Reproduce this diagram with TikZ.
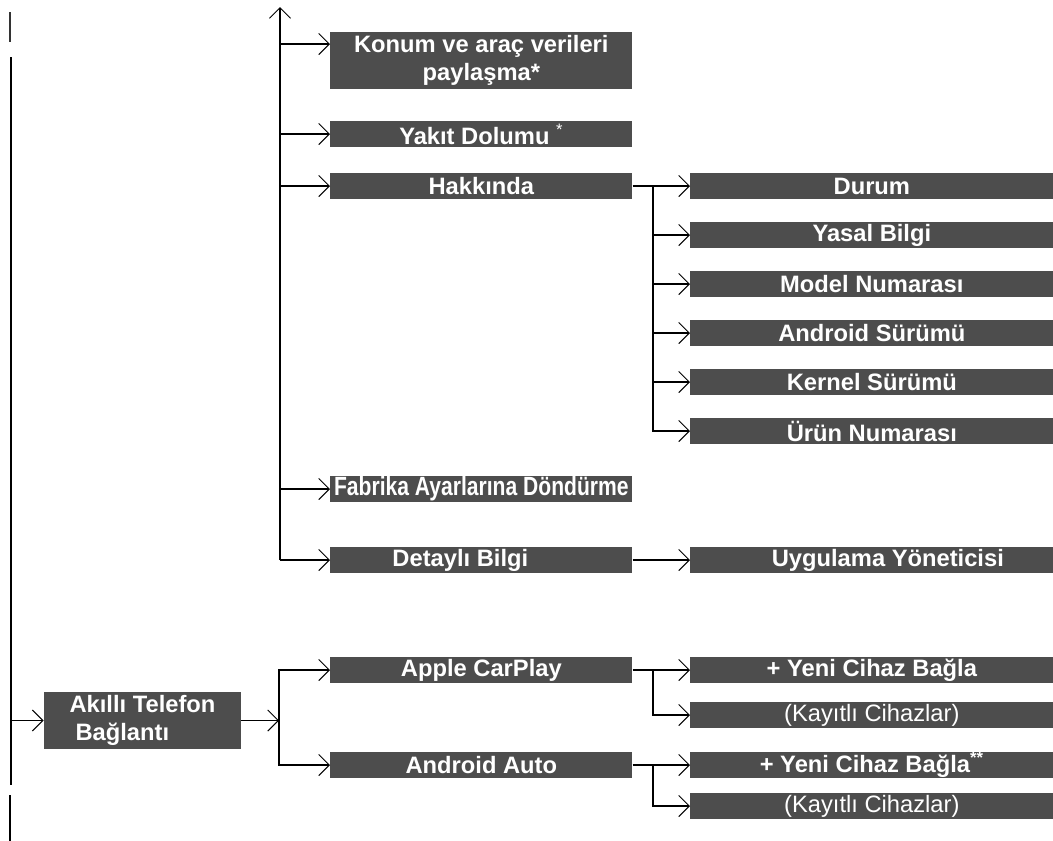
\documentclass[tikz,border=0pt]{standalone}
\usepackage{fontspec}
\setmainfont{Liberation Sans}
\newfontfamily\narrowfont[FakeStretch=0.8]{Liberation Sans}
\usepackage{tikz}
\usetikzlibrary{arrows.meta, positioning, calc}
\definecolor{boxgray}{RGB}{77, 77, 77}
\tikzstyle{menu} = [fill=boxgray, text=white, font=\fontsize{13.5}{16}\selectfont\bfseries, inner sep=0pt, minimum height=0.52cm, anchor=west]
\tikzstyle{leftmenu} = [menu, minimum width=6.04cm]
\tikzstyle{rightmenu} = [menu, minimum width=7.26cm]
\tikzstyle{narrow} = [font=\fontsize{15}{16}\selectfont\narrowfont\bfseries]
\tikzstyle{plain} = [font=\fontsize{13.5}{16}\selectfont]
\tikzstyle{arrow} = [-{Straight Barb[length=6pt, width=12pt, line width=0.6pt]}, line width=1.1pt]
\tikzstyle{link} = [line width=1.1pt]

\begin{document}
\begin{tikzpicture}
    \useasboundingbox (0,0) rectangle (21.06,-16.82);

    % Left line
    \coordinate (ltop) at (0.22,-1.14);
    \coordinate (lbot) at (0.22,-15.70);
    \draw[line width=0.8pt, black!80] (0.2,-0.24) -- (0.2,-0.84);
    \draw[link] (ltop) -- (lbot);
    \draw[line width=0.8pt] (0.2,-15.90) -- (0.2,-16.82);

    % Settings items
    \node[leftmenu, minimum height=1.14cm, align=center] (konum) at (6.6,-1.21) {Konum ve araç verileri\\paylaşma*};
    \node[leftmenu] (yakit) at (6.6,-2.68) {Yakıt Dolumu \textsuperscript{\normalfont *}};
    \node[leftmenu] (hakkinda) at (6.6,-3.72) {Hakkında};
    \node[leftmenu, narrow] (fabrika) at (6.6,-9.78) {Fabrika Ayarlarına Döndürme};
    \node[leftmenu] (detayli) at (6.6,-11.20) {\hspace*{-0.84cm}Detaylı Bilgi};

    % About items
    \node[rightmenu] (durum) at (13.8,-3.72) {Durum};
    \node[rightmenu] (yasal) at (13.8,-4.70) {Yasal Bilgi};
    \node[rightmenu] (model) at (13.8,-5.68) {Model Numarası};
    \node[rightmenu] (surum) at (13.8,-6.66) {Android Sürümü};
    \node[rightmenu] (kernel) at (13.8,-7.64) {Kernel Sürümü};
    \node[rightmenu] (urun) at (13.8,-8.62) {Ürün Numarası};
    \node[rightmenu] (uygulama) at (13.8,-11.20) {\hspace*{0.64cm}Uygulama Yöneticisi};

    % Smartphone connection
    \node[menu, anchor=center, minimum width=3.94cm, minimum height=1.14cm, align=left] (akilli) at (2.85,-14.41) {Akıllı Telefon\\\hspace*{0.12cm}Bağlantı};
    \node[leftmenu] (apple) at (6.6,-13.40) {Apple CarPlay};
    \node[leftmenu] (android) at (6.6,-15.30) {Android Auto};
    \node[rightmenu] (yeni1) at (13.8,-13.40) {+ Yeni Cihaz Bağla};
    \node[rightmenu, plain] (kayitli1) at (13.8,-14.30) {(Kayıtlı Cihazlar)};
    \node[rightmenu] (yeni2) at (13.8,-15.30) {+ Yeni Cihaz Bağla\textsuperscript{**}};
    \node[rightmenu, plain] (kayitli2) at (13.8,-16.12) {(Kayıtlı Cihazlar)};

    % Junctions
    \coordinate (trunktop) at (5.6,-0.14);
    \coordinate (konumin) at (6.6,-0.88);
    \coordinate (hjunc) at (13.06,-3.72);
    \coordinate (sjunc) at (5.58,-14.41);
    \coordinate (ajunc) at (13.06,-13.40);
    \coordinate (bjunc) at (13.06,-15.30);

    % Connectors
    \draw[arrow] (detayli.west -| trunktop) -- (trunktop);
    \draw[arrow] (konumin -| trunktop) -- (konumin);
    \foreach \n in {yakit, hakkinda, fabrika, detayli}
        \draw[arrow] (\n.west -| trunktop) -- (\n.west);
    \draw[link] (hakkinda.east) -- (hjunc);
    \foreach \n in {durum, yasal, model, surum, kernel, urun}
        \draw[arrow] (hjunc) |- (\n.west);
    \draw[arrow] (detayli.east) -- (uygulama.west);

    \draw[arrow] (akilli.west -| ltop) -- (akilli.west);
    \draw[arrow] (akilli.east) -- (sjunc);
    \draw[arrow] (sjunc) |- (apple.west);
    \draw[arrow] (sjunc) |- (android.west);
    \draw[link] (apple.east) -- (ajunc);
    \draw[arrow] (ajunc) |- (yeni1.west);
    \draw[arrow] (ajunc) |- (kayitli1.west);
    \draw[link] (android.east) -- (bjunc);
    \draw[arrow] (bjunc) |- (yeni2.west);
    \draw[arrow] (bjunc) |- (kayitli2.west);
\end{tikzpicture}
\end{document}
